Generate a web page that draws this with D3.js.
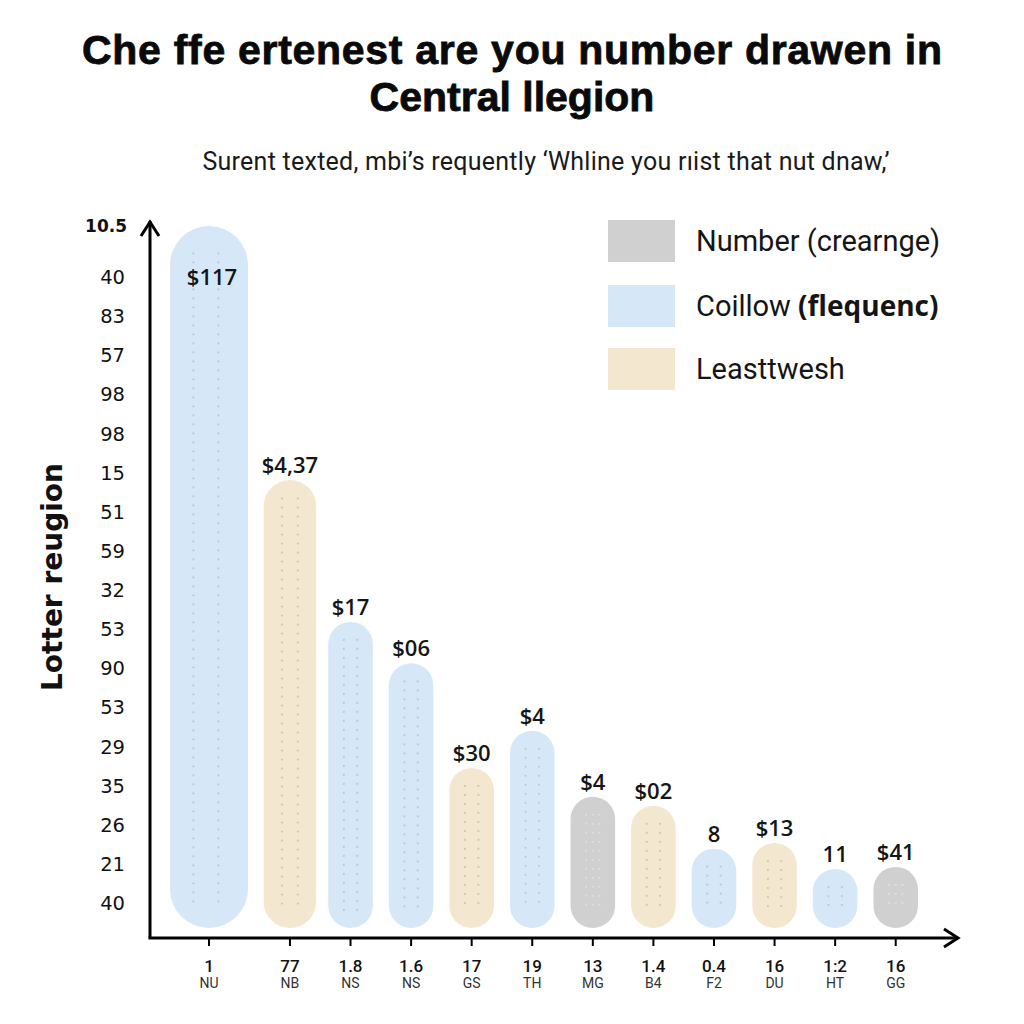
<!DOCTYPE html>
<html>
<head>
<meta charset="utf-8">
<script src="https://cdn.jsdelivr.net/npm/d3@7"></script>
<style>
  html, body { margin: 0; padding: 0; background: #fff; }
  svg { display: block; }
</style>
</head>
<body>
<svg id="chart" width="1024" height="1024"></svg>
<script>
// ---------- data ----------
const titleLines = ["Che ffe ertenest are you number drawen in", "Central llegion"];
const subtitle = "Surent texted, mbi\u2019s requently \u2018Whline you r\u0131ist that nut dnaw,\u2019";
const yAxisTitle = "Lotter reugion";
const categories = ["NU", "NB", "NS", "NS", "GS", "TH", "MG", "B4", "F2", "DU", "HT", "GG"];
const xNumbers = ["1", "77", "1.8", "1.6", "17", "19", "13", "1.4", "0.4", "16", "1:2", "16"];
const values = [100, 63.8, 43.6, 37.7, 22.8, 28.1, 18.7, 17.4, 11.3, 12.1, 8.4, 8.7];
const series = ["blue", "beige", "blue", "blue", "beige", "blue", "gray", "beige", "blue", "beige", "blue", "gray"];
const valueLabels = ["$117", "$4,37", "$17", "$06", "$30", "$4", "$4", "$02", "8", "$13", "11", "$41"];
const yTopLabel = "10.5";
const yTickLabels = ["40", "83", "57", "98", "98", "15", "51", "59", "32", "53", "90", "53", "29", "35", "26", "21", "40"];
const legendItems = [
  { key: "gray", text: "Number (crearnge)", bold: "" },
  { key: "blue", text: "Coillow ", bold: "(flequenc)" },
  { key: "beige", text: "Leasttwesh", bold: "" }
];

// ---------- styles ----------
const colors = { gray: "#d0d0d0", blue: "#d6e8f7", beige: "#f4e7d0" };
const dotColors = { gray: "#e6e6e6", blue: "#a9bfd3", beige: "#c9b79a" };

const svg = d3.select("#chart");

// Title
svg.append("g").selectAll("text").data(titleLines).join("text")
  .attr("x", 512).attr("y", (d, i) => 64 + i * 47)
  .attr("text-anchor", "middle")
  .attr("font-family", "Liberation Sans, Arial, sans-serif")
  .attr("font-weight", "bold").attr("font-size", 41)
  .attr("stroke", "#0a0a0a").attr("stroke-width", 0.8)
  .attr("fill", "#0a0a0a")
  .attr("textLength", (d, i) => i === 0 ? 860 : null)
  .text(d => d);

svg.append("text")
  .attr("x", 546).attr("y", 170)
  .attr("text-anchor", "middle")
  .attr("font-family", "Roboto, Liberation Sans, sans-serif")
  .attr("font-size", 25).attr("fill", "#1a1a1a")
  .attr("textLength", 687)
  .text(subtitle);

// ---------- scales ----------
const axisX = 150, axisY = 938, barBase = 928;
const y = d3.scaleLinear().domain([0, 100]).range([barBase, 226]);

// horizontal layout: slot units (first bar wider)
const slotUnits = values.map((d, i) => i === 0 ? 1.48 : 1);
const cum = [0];
slotUnits.forEach((u, i) => cum.push(cum[i] + u));
const xu = d3.scaleLinear().domain([0, cum[cum.length - 1]]).range([170, 926]);
const gap = 16;
const bars = values.map((v, i) => {
  const x0 = xu(cum[i]) + (i === 0 ? 0 : gap / 2);
  const x1 = xu(cum[i + 1]) - gap / 2;
  return { i, v, cat: categories[i], s: series[i], x0, x1, cx: (x0 + x1) / 2, w: x1 - x0 };
});
bars[0].x1 = 248; bars[0].w = bars[0].x1 - bars[0].x0; bars[0].cx = (bars[0].x0 + bars[0].x1) / 2;
bars[1].x0 -= 4; bars[1].x1 += 4; bars[1].w += 8;

// ---------- bars ----------
const gBars = svg.append("g");
bars.forEach(b => {
  const top = y(b.v);
  const h = barBase - top;
  const r = Math.min(b.w / 2, h / 2);
  gBars.append("rect")
    .attr("x", b.x0).attr("y", top)
    .attr("width", b.w).attr("height", h)
    .attr("rx", r).attr("ry", r)
    .attr("fill", colors[b.s]);
  const cols = b.i === 0 ? [0.3, 0.62] : (b.s === "gray" ? [0.35, 0.5, 0.65] : [0.35, 0.65]);
  const dg = gBars.append("g");
  cols.forEach(c => {
    const cx = b.x0 + b.w * c;
    for (let yy = top + Math.max(18, r * 0.7); yy < barBase - 18; yy += 9) {
      dg.append("circle").attr("cx", cx).attr("cy", yy).attr("r", 1.1)
        .attr("fill", dotColors[b.s]).attr("opacity", 0.7);
    }
  });
});

// value labels
svg.append("g").selectAll("text").data(bars).join("text")
  .attr("x", d => d.cx + (d.i === 0 ? 3 : 0))
  .attr("y", d => d.i === 0 ? y(d.v) + 59 : y(d.v) - 7)
  .attr("text-anchor", "middle")
  .attr("font-family", "Open Sans, DejaVu Sans, sans-serif")
  .attr("font-weight", 600).attr("font-size", 22)
  .attr("fill", "#151515")
  .text(d => valueLabels[d.i]);

// ---------- axes ----------
const axes = svg.append("g").attr("stroke", "#000").attr("stroke-width", 3).attr("fill", "none");
axes.append("path").attr("d", `M${axisX},${axisY} L${axisX},221`);
axes.append("path").attr("d", `M${axisX - 9},${236} L${axisX},${222} L${axisX + 9},${236}`).attr("stroke-linejoin", "miter");
axes.append("path").attr("d", `M${axisX - 1.5},${axisY} L958,${axisY}`);
axes.append("path").attr("d", `M944,${axisY - 9} L958,${axisY} L944,${axisY + 9}`);

// x ticks and labels
svg.append("g").selectAll("line").data(bars).join("line")
  .attr("x1", d => d.cx).attr("x2", d => d.cx)
  .attr("y1", axisY).attr("y2", axisY + 8)
  .attr("stroke", "#000").attr("stroke-width", 2);

svg.append("g").selectAll("text").data(bars).join("text")
  .attr("x", d => d.cx).attr("y", 972)
  .attr("text-anchor", "middle")
  .attr("font-family", "Roboto, Liberation Sans, sans-serif")
  .attr("font-weight", 500).attr("font-size", 17).attr("fill", "#111")
  .text(d => xNumbers[d.i]);

svg.append("g").selectAll("text").data(bars).join("text")
  .attr("x", d => d.cx).attr("y", 988)
  .attr("text-anchor", "middle")
  .attr("font-family", "Roboto, Liberation Sans, sans-serif")
  .attr("font-size", 14).attr("fill", "#333")
  .text(d => d.cat);

// y labels
const yLab = d3.scalePoint().domain(d3.range(yTickLabels.length)).range([903, 277]);
svg.append("g").selectAll("text").data(yTickLabels).join("text")
  .attr("x", 125).attr("y", (d, i) => yLab(yTickLabels.length - 1 - i) + 7)
  .attr("text-anchor", "end")
  .attr("font-family", "DejaVu Sans, sans-serif")
  .attr("font-size", 19.5).attr("fill", "#111")
  .text(d => d);

svg.append("text")
  .attr("x", 127).attr("y", y(100) + 6)
  .attr("text-anchor", "end")
  .attr("font-family", "DejaVu Sans, sans-serif")
  .attr("font-weight", "bold").attr("font-size", 17).attr("fill", "#111")
  .text(yTopLabel);

svg.append("text")
  .attr("transform", "translate(62,577) rotate(-90)")
  .attr("text-anchor", "middle")
  .attr("font-family", "DejaVu Sans, sans-serif")
  .attr("font-weight", "bold").attr("font-size", 28).attr("fill", "#111")
  .text(yAxisTitle);

// ---------- legend ----------
const lg = svg.append("g");
legendItems.forEach((d, i) => {
  const yy = [220, 285, 348][i];
  lg.append("rect").attr("x", 608).attr("y", yy).attr("width", 67).attr("height", 42)
    .attr("fill", colors[d.key]);
  const t = lg.append("text").attr("x", 696).attr("y", yy + 31)
    .attr("font-family", "Roboto, Liberation Sans, sans-serif")
    .attr("font-size", 29).attr("fill", "#151515");
  t.append("tspan").text(d.text);
  if (d.bold) t.append("tspan").attr("font-weight", "bold").attr("font-family", "Open Sans, sans-serif").attr("font-size", 28).text(d.bold);
});
</script>
</body>
</html>
